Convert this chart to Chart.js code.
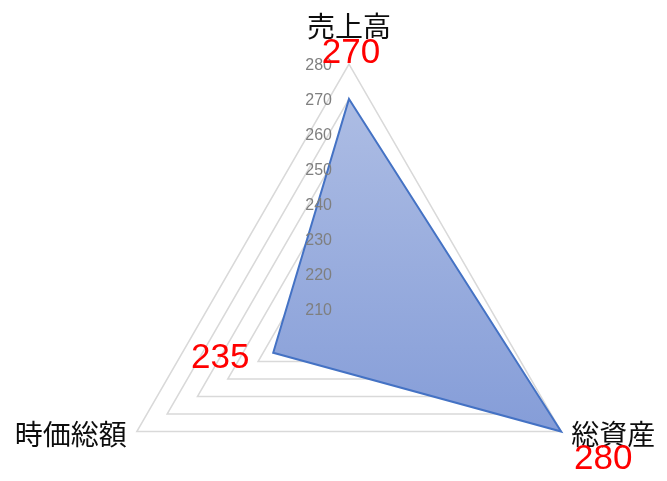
<!DOCTYPE html>
<html>
<head>
<meta charset="utf-8">
<script src="https://cdn.jsdelivr.net/npm/chart.js@4.4.1/dist/chart.umd.min.js"></script>
<style>
html,body{margin:0;padding:0;background:#fff;overflow:hidden;}
#wrap{width:667px;height:481px;overflow:hidden;}
canvas{display:block;}
</style>
</head>
<body>
<div id="wrap"><canvas id="c" width="667" height="554"></canvas></div>
<script>
const categories = ['売上高', '総資産', '時価総額'];
const values = [270, 280, 235];
const tickValues = [210, 220, 230, 240, 250, 260, 270, 280];
const scaleMin = 210;
const scaleMax = 280;

const overlay = {
  id: 'overlay',
  afterDatasetsDraw(chart) {
    const ctx = chart.ctx;
    const s = chart.scales.r;
    ctx.save();
    // tick labels, left of the vertical axis
    ctx.font = '16px "Liberation Sans", Arial, sans-serif';
    ctx.fillStyle = '#7F7F7F';
    ctx.textAlign = 'right';
    ctx.textBaseline = 'middle';
    tickValues.forEach(v => {
      const d = s.getDistanceFromCenterForValue(v);
      ctx.fillText(String(v), s.xCenter - 17, s.yCenter - d + 2);
    });
    // category labels
    ctx.font = '28px "Noto Sans CJK JP", sans-serif';
    ctx.fillStyle = '#0D0D0D';
    categories.forEach((c, i) => {
      const p = s.getPointPosition(i, s.drawingArea);
      if (i === 0) {
        ctx.textAlign = 'center';
        ctx.fillText(c, p.x, p.y - 38);
      } else if (p.x > s.xCenter) {
        ctx.textAlign = 'left';
        ctx.fillText(c, p.x + 10, p.y + 3);
      } else {
        ctx.textAlign = 'right';
        ctx.fillText(c, p.x - 10, p.y + 3);
      }
    });
    // data labels
    ctx.font = '35px "Liberation Sans", Arial, sans-serif';
    ctx.fillStyle = '#FF0000';
    const meta = chart.getDatasetMeta(0);
    values.forEach((v, i) => {
      const pt = meta.data[i];
      ctx.textAlign = 'center';
      if (i === 0) {
        ctx.fillText(String(v), pt.x + 2, pt.y - 46);
      } else if (pt.x > s.xCenter) {
        ctx.fillText(String(v), pt.x + 42, pt.y + 28);
      } else {
        ctx.fillText(String(v), pt.x - 53, pt.y + 6);
      }
    });
    ctx.restore();
  }
};

new Chart(document.getElementById('c'), {
  type: 'radar',
  data: {
    labels: categories,
    datasets: [{
      data: values,
      borderColor: '#4472C4',
      borderWidth: 2,
      pointRadius: 0,
      pointHoverRadius: 0,
      fill: true,
      backgroundColor: (context) => {
        const chart = context.chart;
        const s = chart.scales.r;
        if (!chart.chartArea || !s) return '#98ACDD';
        const top = s.yCenter - s.getDistanceFromCenterForValue(scaleMax);
        const bottom = s.yCenter + s.drawingArea / 2;
        const g = chart.ctx.createLinearGradient(0, top, 0, bottom);
        g.addColorStop(0, '#B1C0E5');
        g.addColorStop(1, '#859DD8');
        return g;
      }
    }]
  },
  options: {
    responsive: false,
    animation: false,
    devicePixelRatio: 1,
    layout: { padding: { top: 64, left: 104, right: 73, bottom: 0 } },
    plugins: { legend: { display: false }, tooltip: { enabled: false } },
    elements: { line: { tension: 0 } },
    scales: {
      r: {
        min: scaleMin,
        max: scaleMax,
        ticks: { stepSize: 10, display: false },
        grid: { color: '#D9D9D9', lineWidth: 1.5 },
        angleLines: { display: false },
        pointLabels: { display: false }
      }
    }
  },
  plugins: [overlay]
});
</script>
</body>
</html>
